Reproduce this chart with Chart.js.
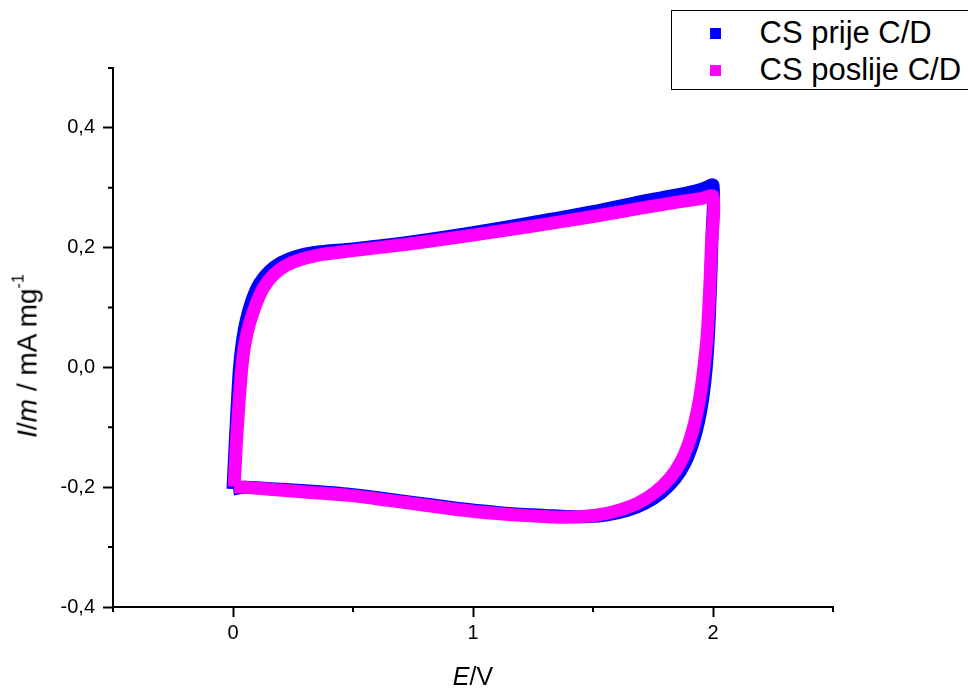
<!DOCTYPE html>
<html>
<head>
<meta charset="utf-8">
<script src="https://cdn.jsdelivr.net/npm/chart.js@4"></script>
<style>
  html, body { margin: 0; padding: 0; background: #fff; }
  #wrap { position: relative; width: 968px; height: 688px; overflow: hidden; }
  #wrap canvas { position: absolute; left: 0; top: 0; }
  .txt { position: absolute; font-family: "Liberation Sans", Arial, sans-serif; color: #000; white-space: nowrap; line-height: 1; }
  #legend { position: absolute; left: 671px; top: 10px; width: 320px; height: 78px; border: 1.5px solid #000; border-right: none; background: #fff; }
  .sw { position: absolute; width: 11px; height: 11px; }
</style>
</head>
<body>
<div id="wrap">
  <canvas id="c" width="968" height="688"></canvas>
  <div id="legend"></div>
  <div class="txt" id="ytitle" style="font-size:28px; left:26px; top:356px; transform: translate(-50%,-50%) rotate(-90deg);"><i>I</i>/<i>m</i> / mA mg<sup style="font-size:16px; vertical-align: 13px;">-1</sup></div>
  <div class="txt" id="xtitle" style="font-size:25px; left:473px; top:664px; transform: translateX(-50%);"><i>E</i>/V</div>
</div>
<script>
// ---- data ----
const seriesNames = ["CS prije C/D", "CS poslije C/D"];
const seriesColors = ["#0000FF", "#FF00FF"];

const xTicks = [0, 1, 2];
const yTicks = [-0.4, -0.2, 0.0, 0.2, 0.4];
const xMinor = [-0.5, 0.5, 1.5, 2.5];
const yMinor = [-0.3, -0.1, 0.1, 0.3, 0.5];

// CS prije C/D (blue)
const prijeE = [0, 0.005, 0.01, 0.018, 0.027, 0.038, 0.055, 0.08, 0.11, 0.15, 0.2, 0.26, 0.34, 0.5, 0.75, 1.0, 1.25, 1.5, 1.7, 1.85, 1.93, 1.97, 2.0,
                1.996, 1.99, 1.982, 1.972, 1.958, 1.94, 1.917, 1.885, 1.842, 1.785, 1.715, 1.64, 1.56, 1.48, 1.4, 1.3, 1.2, 1.1, 0.95, 0.8, 0.65, 0.49, 0.3, 0.14, 0.05, 0];
const prijeI = [-0.203, -0.16, -0.12, -0.06, 0.0, 0.04, 0.078, 0.113, 0.14, 0.16, 0.175, 0.185, 0.192, 0.198, 0.21, 0.225, 0.242, 0.26, 0.277, 0.288, 0.295, 0.3, 0.304,
                0.22, 0.14, 0.06, 0.0, -0.05, -0.09, -0.125, -0.158, -0.186, -0.209, -0.227, -0.239, -0.246, -0.249, -0.249, -0.247, -0.245, -0.242, -0.236, -0.228, -0.22, -0.212, -0.206, -0.202, -0.2, -0.203];

// CS poslije C/D (magenta)
const poslijeE = [0.005, 0.01, 0.015, 0.025, 0.037, 0.05, 0.07, 0.1, 0.13, 0.17, 0.22, 0.28, 0.36, 0.5, 0.75, 1.0, 1.25, 1.5, 1.7, 1.85, 1.95, 2.0,
                  1.993, 1.985, 1.975, 1.962, 1.945, 1.925, 1.9, 1.865, 1.82, 1.76, 1.69, 1.62, 1.54, 1.46, 1.38, 1.3, 1.2, 1.1, 0.95, 0.8, 0.65, 0.49, 0.3, 0.14, 0.05, 0.005];
const poslijeI = [-0.199, -0.16, -0.12, -0.06, 0.0, 0.04, 0.075, 0.11, 0.135, 0.155, 0.17, 0.18, 0.188, 0.195, 0.207, 0.221, 0.236, 0.252, 0.266, 0.276, 0.282, 0.285,
                  0.2, 0.12, 0.05, 0.0, -0.05, -0.09, -0.125, -0.158, -0.185, -0.208, -0.226, -0.237, -0.245, -0.249, -0.25, -0.249, -0.247, -0.244, -0.238, -0.23, -0.222, -0.214, -0.208, -0.203, -0.2, -0.199];

// ---- build ----
function pts(xs, ys) { return xs.map((x, i) => ({ x: x, y: ys[i] })); }
const fmt = v => v.toFixed(1).replace('.', ',');

// HTML legend from series names/colours
const leg = document.getElementById('legend');
seriesNames.forEach((name, i) => {
  const sw = document.createElement('div');
  sw.className = 'sw';
  sw.style.background = seriesColors[i];
  sw.style.left = (710 - 671 - 1.5) + 'px';
  sw.style.top = (i === 0 ? 28 - 10 - 1.5 : 65 - 10 - 1.5) + 'px';
  leg.appendChild(sw);
  const t = document.createElement('div');
  t.className = 'txt';
  t.style.fontSize = '31px';
  t.style.left = (760 - 671 - 1.5) + 'px';
  t.style.top = (i === 0 ? 17.8 - 10 - 1.5 : 54.8 - 10 - 1.5) + 'px';
  t.textContent = name;
  leg.appendChild(t);
});

const minorTicks = {
  id: 'minorTicks',
  afterDraw(chart) {
    const ctx = chart.ctx, xs = chart.scales.x, ys = chart.scales.y;
    const ca = chart.chartArea;
    ctx.save();
    ctx.strokeStyle = '#000';
    ctx.lineWidth = 2;
    ctx.beginPath();
    xMinor.forEach(v => { const p = xs.getPixelForValue(v); ctx.moveTo(p, ca.bottom); ctx.lineTo(p, ca.bottom + 5); });
    yMinor.forEach(v => { const p = ys.getPixelForValue(v); ctx.moveTo(ca.left - 5, p); ctx.lineTo(ca.left, p); });
    ctx.stroke();
    ctx.restore();
  }
};

const tickFont = { family: "'Liberation Sans', Arial, sans-serif", size: 20 };

new Chart(document.getElementById('c'), {
  type: 'scatter',
  data: {
    datasets: [
      { label: seriesNames[0], data: pts(prijeE, prijeI), borderColor: seriesColors[0], backgroundColor: seriesColors[0], order: 1 },
      { label: seriesNames[1], data: pts(poslijeE, poslijeI), borderColor: seriesColors[1], backgroundColor: seriesColors[1], order: 0 }
    ].map(d => Object.assign(d, { showLine: true, pointRadius: 0, borderWidth: 13, tension: 0.3, borderJoinStyle: 'miter', borderCapStyle: 'butt', fill: false }))
  },
  options: {
    responsive: false,
    animation: false,
    layout: { padding: { left: 0, top: 68, right: 135, bottom: 0 } },
    plugins: { legend: { display: false }, tooltip: { enabled: false } },
    scales: {
      x: {
        type: 'linear', min: -0.5, max: 2.5,
        afterBuildTicks: s => { s.ticks = xTicks.map(v => ({ value: v })); },
        afterFit: s => { s.height = 81; },
        ticks: { color: '#000', font: tickFont, padding: 4, callback: v => String(v) },
        grid: { display: true, drawOnChartArea: false, drawTicks: true, tickLength: 10, tickWidth: 2, tickColor: '#000', color: '#000' },
        border: { display: true, color: '#000', width: 2 }
      },
      y: {
        type: 'linear', min: -0.4, max: 0.5,
        afterBuildTicks: s => { s.ticks = yTicks.map(v => ({ value: v })); },
        afterFit: s => { s.width = 113; },
        ticks: { color: '#000', font: tickFont, padding: 8, callback: v => fmt(v) },
        grid: { display: true, drawOnChartArea: false, drawTicks: true, tickLength: 10, tickWidth: 2, tickColor: '#000', color: '#000' },
        border: { display: true, color: '#000', width: 2 }
      }
    }
  },
  plugins: [minorTicks]
});
</script>
</body>
</html>
